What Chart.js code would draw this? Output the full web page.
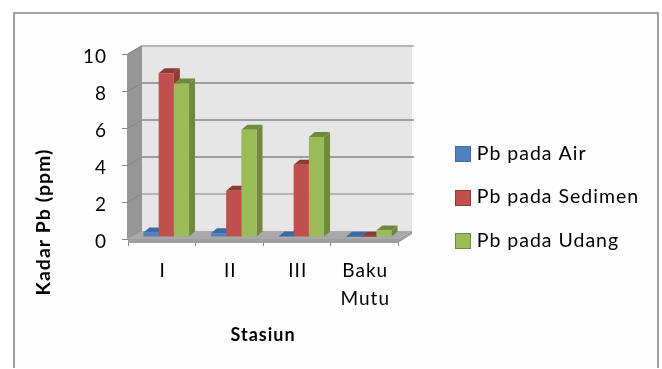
<!DOCTYPE html>
<html><head><meta charset="utf-8">
<style>html,body{margin:0;padding:0;background:#fff}#w{width:662px;height:369px}</style>
<script src="https://cdn.jsdelivr.net/npm/chart.js@4"></script>
</head><body><div id="w"><canvas id="c" width="662" height="369"></canvas></div>
<script>
const categories = ['I','II','III',['Baku','Mutu']];
const seriesNames = ['Pb pada Air','Pb pada Sedimen','Pb pada Udang'];
const air = [0.25,0.2,0.03,0.01];
const sedimen = [8.85,2.5,3.9,0.01];
const udang = [8.3,5.8,5.4,0.35];
const faceColors = ['#4F81BD','#C0504D','#9BBB59'];
const darkColors = ['#3A6BA5','#8E3A38','#6F8A3C'];
const yTicks = [0,2,4,6,8,10];
const FONT = 'Lato, Carlito, sans-serif';
const backDX = 14, backDY = -8, barDX = 4.5, barDY = -2, depthDX = 6, depthDY = -5;

const scene = {
  id:'scene',
  beforeLayout(chart){ chart.ctx.letterSpacing='1px';
    const l=chart.legend;
    if(l && !l._f){ l._f=true; const f=l.fit; l.fit=function(){ f.call(this); this.width=264; }; }
  },
  afterLayout(chart){
    const l=chart.legend; const sx=33, sy=197-(l.top+l.bottom)/2;
    l.left+=sx; l.right+=sx; l.top+=sy; l.bottom+=sy;
    l.legendHitBoxes.forEach(h=>{h.left=0;});
    l.adjustHitBoxes();
    const s=chart.scales.y;
    if(!s._w){ s._w=true; const o=s.drawTitle;
      s.drawTitle=function(){ const c=this.ctx; c.save(); c.translate(0,75.5); o.call(this); c.restore(); };
    }
  },
  beforeDraw(chart){
    const c=chart.ctx; c.letterSpacing='1px'; c.save();
    c.fillStyle='#fdfdfd'; c.fillRect(14,13,644,355);
    c.strokeStyle='#a0a0a0'; c.lineWidth=2;
    c.beginPath(); c.moveTo(14,368); c.lineTo(14,13); c.lineTo(658,13); c.lineTo(658,368); c.stroke();
    c.restore();
  },
  beforeDatasetsDraw(chart){
    const c=chart.ctx, a=chart.chartArea, y=chart.scales.y;
    const L=a.left, R=a.right, B=a.bottom, T=a.top;
    const poly=(col,pts)=>{c.fillStyle=col;c.beginPath();pts.forEach((p,i)=>i?c.lineTo(p[0],p[1]):c.moveTo(p[0],p[1]));c.closePath();c.fill();};
    c.save();
    poly('#e6e6e6',[[L+backDX,T+backDY-1],[R+backDX,T+backDY-1],[R+backDX,B+backDY],[L+backDX,B+backDY]]);
    poly('#969696',[[L-1,T],[L+backDX,T+backDY-1],[L+backDX,B+backDY],[L-1,B]]);
    yTicks.forEach(v=>{
      const py=y.getPixelForValue(v);
      c.strokeStyle= v===10 ? '#a4a4a4' : '#868686'; c.lineWidth= v===2?1:1.6;
      if(v>0){ c.beginPath(); c.moveTo(L+backDX,py+backDY); c.lineTo(R+backDX+2,py+backDY); c.stroke(); }
      c.strokeStyle='#868686'; c.lineWidth=1;
      c.beginPath(); c.moveTo(L,py); c.lineTo(L+backDX,py+backDY); c.stroke();
    });
    poly('#a9a9a9',[[L,B],[L+backDX,B+backDY],[R+backDX,B+backDY],[R,B]]);
    poly('#9e9e9e',[[L,B],[R,B],[R+backDX,B+backDY],[R+backDX,B+backDY+3],[R,B+4],[L,B+4]]);
    c.restore();
    c.save(); c.translate(barDX,barDY);
    chart.data.datasets.forEach((d,i)=>{
      chart.getDatasetMeta(i).data.forEach(el=>{
        const x0=el.x-el.width/2, x1=el.x+el.width/2, t=el.y, b=el.base;
        poly(darkColors[i],[[x0,t],[x0+depthDX,t+depthDY],[x1+depthDX,t+depthDY],[x1,t]]);
        poly(darkColors[i],[[x1,t],[x1+depthDX,t+depthDY],[x1+depthDX,b+depthDY],[x1,b]]);
      });
    });
  },
  afterDatasetsDraw(chart){ chart.ctx.restore(); },
  afterDraw(chart){
    const c=chart.ctx, l=chart.legend; c.save();
    const x=l.left+l.options.labels.padding;
    l.legendHitBoxes.forEach((h,i)=>{
      const top=Math.floor(h.top+h.height/2-7);
      c.fillStyle=faceColors[i]; c.fillRect(x,top,16,16);
      c.strokeStyle=darkColors[i]; c.lineWidth=1; c.strokeRect(x+0.5,top+0.5,15,15);
    });
    c.restore();
  }
};

new Chart(document.getElementById('c'),{
  type:'bar',
  data:{labels:categories,datasets:[air,sedimen,udang].map((d,i)=>({
    label:seriesNames[i],data:d,backgroundColor:faceColors[i],borderWidth:0,
    categoryPercentage:0.675,barPercentage:1,clip:false
  }))},
  options:{
    responsive:false,animation:false,
    layout:{padding:{left:24,top:54,right:0,bottom:13}},
    plugins:{
      tooltip:{enabled:false},
      legend:{position:'right',labels:{boxWidth:12,boxHeight:12,padding:24,color:'#000',font:{family:FONT,size:19.5}}}
    },
    scales:{
      x:{
        afterFit(s){s.height=117;},
        grid:{drawOnChartArea:false,offset:true,tickLength:7,color:'#868686'},
        border:{display:false},
        ticks:{color:'#000',padding:11,labelOffset:1,maxRotation:0,autoSkip:false,font:{family:FONT,size:19,lineHeight:1.47}},
        title:{display:true,text:'Stasiun',color:'#000',padding:{top:0,bottom:10},font:{family:FONT,size:18,weight:'bold'}}
      },
      y:{
        min:0,max:10,
        afterFit(s){s.width=104;},
        grid:{drawOnChartArea:false,tickLength:6,color:'#868686'},
        border:{display:false},
        ticks:{stepSize:2,color:'#000',padding:15,labelOffset:2.5,font:{family:FONT,size:19}},
        title:{display:true,text:'Kadar Pb (ppm)',color:'#000',padding:{top:8,bottom:0},font:{family:FONT,size:19.5,weight:'bold'}}
      }
    }
  },
  plugins:[scene]
});
</script></body></html>
